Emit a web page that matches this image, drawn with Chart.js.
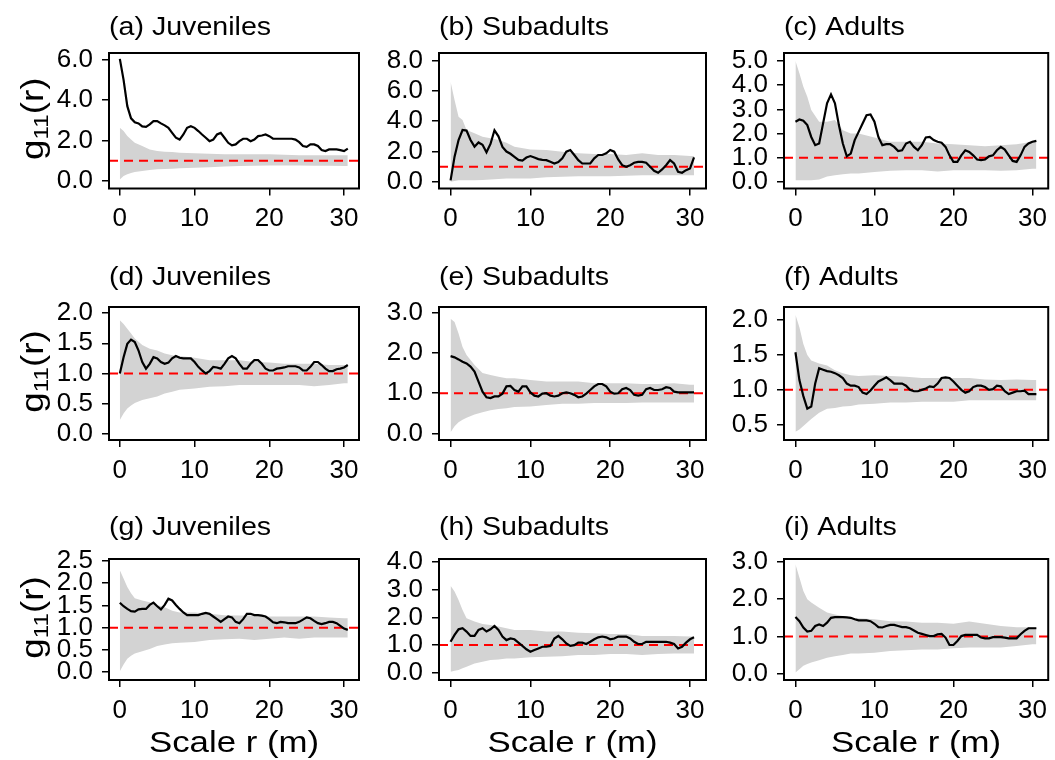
<!DOCTYPE html>
<html>
<head>
<meta charset="utf-8">
<script src="https://cdn.jsdelivr.net/npm/chart.js@4.4.0/dist/chart.umd.min.js"></script>
<style>
  body { margin: 0; background: #fff; width: 1055px; height: 760px; overflow: hidden; position: relative; }
  canvas { position: absolute; }
</style>
</head>
<body>
<script>
// distances r (m) for the observed g11(r) curves and for the simulation envelopes
var obsX = [0,0.5,1,1.5,2,2.5,3,3.5,4,4.5,5,5.5,6,6.5,7,7.5,8,8.5,9,9.5,10,10.5,11,11.5,12,12.5,13,13.5,14,14.5,15,15.5,16,16.5,17,17.5,18,18.5,19,19.5,20,20.5,21,21.5,22,22.5,23,23.5,24,24.5,25,25.5,26,26.5,27,27.5,28,28.5,29,29.5,30,30.5];
var envX = [0,0.5,1,1.5,2,3,4,5,6,7,8,10,12,14,16,18,20,22,24,26,28,30,30.5];

// (a) Juveniles
var obsA = [6.04,5.0,3.7,3.1,2.9,2.85,2.7,2.68,2.8,2.96,2.96,2.85,2.75,2.63,2.38,2.14,2.05,2.3,2.63,2.71,2.63,2.47,2.3,2.14,1.97,2.05,2.3,2.38,2.14,1.89,1.76,1.81,1.97,2.09,2.09,1.97,2.05,2.22,2.25,2.3,2.22,2.09,2.09,2.09,2.09,2.09,2.09,2.05,1.92,1.73,1.69,1.81,1.81,1.73,1.53,1.48,1.56,1.56,1.56,1.53,1.48,1.6];
var hiA = [2.63,2.47,2.22,2.05,1.89,1.73,1.56,1.48,1.45,1.43,1.4,1.37,1.35,1.32,1.32,1.32,1.32,1.3,1.28,1.27,1.27,1.27,1.27];
var loA = [0.08,0.25,0.33,0.4,0.44,0.49,0.54,0.58,0.6,0.61,0.63,0.66,0.68,0.72,0.74,0.76,0.77,0.77,0.77,0.76,0.76,0.74,0.74];
// (b) Subadults
var obsB = [0.1,1.66,2.76,3.42,3.38,2.76,2.32,2.6,2.45,1.95,2.5,3.4,3.0,2.3,2.0,1.85,1.65,1.45,1.4,1.6,1.7,1.6,1.5,1.45,1.43,1.32,1.21,1.3,1.55,1.99,2.1,1.77,1.43,1.21,1.21,1.21,1.55,1.77,1.77,1.88,2.1,1.99,1.48,1.1,0.99,1.1,1.26,1.32,1.32,1.26,0.99,0.73,0.6,0.82,1.1,1.43,1.21,0.66,0.6,0.77,0.88,1.61];
var hiB = [6.6,5.4,4.3,4.08,3.42,3.2,2.98,2.87,2.76,2.58,2.32,2.14,2.1,1.99,1.88,1.83,1.83,1.77,1.88,1.77,1.77,1.7,1.7];
var loB = [0.0,0.05,0.1,0.1,0.1,0.1,0.12,0.15,0.18,0.22,0.22,0.22,0.3,0.33,0.37,0.37,0.37,0.4,0.44,0.44,0.44,0.44,0.44];
// (c) Adults
var obsC = [2.49,2.58,2.53,2.35,1.86,1.52,1.59,2.42,3.25,3.62,3.25,2.35,1.59,1.06,1.17,1.73,2.07,2.42,2.76,2.79,2.49,1.86,1.52,1.56,1.56,1.45,1.28,1.31,1.59,1.66,1.45,1.31,1.52,1.84,1.86,1.73,1.66,1.62,1.45,1.1,0.83,0.83,1.1,1.31,1.24,1.1,0.93,0.9,0.93,1.06,1.1,1.31,1.45,1.34,1.1,0.87,0.83,1.1,1.45,1.59,1.66,1.7];
var hiC = [5.0,4.49,3.94,3.52,2.97,2.49,2.49,2.56,2.14,2.0,2.0,1.84,1.66,1.66,1.66,1.59,1.56,1.52,1.48,1.52,1.56,1.66,1.66];
var loC = [0.07,0.07,0.07,0.07,0.07,0.1,0.23,0.28,0.32,0.35,0.35,0.41,0.46,0.48,0.48,0.43,0.48,0.48,0.48,0.46,0.48,0.55,0.55];
// (d) Juveniles
var obsD = [1.0,1.27,1.49,1.56,1.52,1.38,1.19,1.08,1.16,1.27,1.25,1.19,1.16,1.18,1.25,1.29,1.26,1.25,1.25,1.25,1.19,1.11,1.05,1.0,1.04,1.11,1.1,1.08,1.16,1.25,1.29,1.25,1.16,1.08,1.08,1.16,1.22,1.22,1.16,1.08,1.05,1.05,1.08,1.09,1.1,1.12,1.12,1.12,1.1,1.05,1.05,1.11,1.19,1.19,1.14,1.08,1.04,1.04,1.07,1.08,1.1,1.14];
var hiD = [1.88,1.82,1.74,1.66,1.58,1.47,1.41,1.38,1.33,1.3,1.29,1.26,1.22,1.22,1.22,1.19,1.18,1.16,1.16,1.16,1.14,1.14,1.14];
var loD = [0.23,0.34,0.42,0.47,0.51,0.56,0.59,0.62,0.67,0.7,0.73,0.75,0.78,0.79,0.81,0.81,0.81,0.81,0.81,0.79,0.81,0.84,0.84];
// (e) Subadults
var obsE = [1.92,1.89,1.84,1.78,1.74,1.66,1.54,1.29,1.04,0.9,0.88,0.92,0.92,0.99,1.17,1.18,1.08,1.04,1.17,1.17,1.02,0.94,0.92,0.99,1.0,0.94,0.92,0.94,1.0,1.02,1.0,0.96,0.9,0.92,0.99,1.08,1.17,1.23,1.23,1.17,1.04,0.99,1.0,1.1,1.13,1.08,0.96,0.94,0.96,1.1,1.13,1.08,1.08,1.1,1.15,1.13,1.04,1.02,1.02,1.02,1.02,1.02];
var hiE = [2.85,2.77,2.48,2.15,1.95,1.7,1.5,1.45,1.41,1.37,1.37,1.33,1.29,1.29,1.29,1.25,1.25,1.25,1.23,1.23,1.25,1.21,1.21];
var loE = [0.03,0.18,0.28,0.34,0.39,0.47,0.53,0.58,0.61,0.63,0.66,0.67,0.71,0.74,0.74,0.76,0.76,0.76,0.77,0.77,0.77,0.77,0.77];
// (f) Adults
var obsF = [1.54,1.14,0.91,0.73,0.76,1.09,1.31,1.29,1.27,1.26,1.24,1.21,1.17,1.09,1.06,1.06,1.04,0.96,0.94,0.99,1.06,1.12,1.15,1.18,1.14,1.09,1.09,1.09,1.06,1.0,0.98,0.98,1.0,1.02,1.05,1.04,1.09,1.17,1.18,1.17,1.12,1.06,1.0,0.96,0.98,1.04,1.06,1.06,1.04,1.0,1.01,1.06,1.05,0.98,0.94,0.96,0.98,0.98,0.99,0.94,0.94,0.94];
var hiF = [2.08,1.9,1.66,1.5,1.42,1.38,1.35,1.28,1.24,1.21,1.2,1.21,1.2,1.19,1.17,1.17,1.17,1.17,1.15,1.14,1.15,1.14,1.14];
var loF = [0.4,0.43,0.48,0.53,0.58,0.67,0.73,0.74,0.76,0.77,0.79,0.8,0.82,0.82,0.83,0.83,0.83,0.85,0.85,0.85,0.85,0.85,0.85];
// (g) Juveniles
var obsG = [1.56,1.48,1.42,1.37,1.36,1.41,1.42,1.42,1.51,1.56,1.48,1.41,1.51,1.65,1.61,1.51,1.42,1.34,1.28,1.28,1.28,1.28,1.31,1.33,1.31,1.25,1.19,1.13,1.19,1.25,1.23,1.13,1.1,1.19,1.31,1.31,1.28,1.28,1.27,1.25,1.19,1.12,1.1,1.13,1.12,1.1,1.1,1.1,1.13,1.18,1.23,1.21,1.15,1.1,1.08,1.1,1.13,1.13,1.1,1.04,0.98,0.95];
var hiG = [2.29,2.1,1.91,1.77,1.66,1.61,1.57,1.51,1.46,1.38,1.34,1.34,1.31,1.28,1.27,1.27,1.25,1.25,1.25,1.25,1.23,1.21,1.21];
var loG = [0.02,0.17,0.3,0.37,0.42,0.47,0.52,0.59,0.62,0.65,0.66,0.68,0.72,0.74,0.75,0.72,0.75,0.78,0.75,0.78,0.78,0.78,0.78];
// (h) Subadults
var obsH = [1.12,1.37,1.57,1.61,1.49,1.33,1.33,1.55,1.61,1.49,1.57,1.69,1.55,1.31,1.18,1.24,1.21,1.09,0.97,0.85,0.76,0.82,0.88,0.94,0.94,0.97,1.24,1.33,1.21,1.06,0.97,1.0,1.09,1.09,1.04,1.12,1.21,1.28,1.31,1.28,1.21,1.24,1.31,1.31,1.31,1.24,1.12,1.04,1.04,1.12,1.12,1.12,1.12,1.12,1.12,1.09,1.04,0.88,0.94,1.09,1.21,1.28];
var hiH = [3.14,2.94,2.63,2.27,1.97,1.85,1.76,1.73,1.67,1.61,1.55,1.55,1.49,1.49,1.45,1.43,1.4,1.4,1.33,1.33,1.33,1.31,1.31];
var loH = [0.04,0.07,0.1,0.16,0.22,0.34,0.4,0.46,0.48,0.52,0.52,0.56,0.58,0.6,0.64,0.64,0.68,0.68,0.64,0.68,0.7,0.7,0.7];
// (i) Adults
var obsI = [1.52,1.41,1.24,1.13,1.15,1.28,1.32,1.28,1.37,1.5,1.52,1.52,1.52,1.51,1.5,1.46,1.43,1.43,1.43,1.41,1.34,1.25,1.24,1.28,1.31,1.31,1.28,1.25,1.25,1.22,1.16,1.1,1.07,1.04,1.01,1.01,1.06,1.07,0.97,0.77,0.77,0.88,1.01,1.04,1.04,1.04,1.04,0.97,0.95,0.95,0.98,0.98,0.98,0.97,0.95,0.95,0.95,1.06,1.15,1.22,1.22,1.22];
var hiI = [2.94,2.58,2.22,2.0,1.91,1.77,1.64,1.59,1.55,1.5,1.49,1.46,1.41,1.4,1.37,1.37,1.34,1.4,1.34,1.28,1.25,1.25,1.25];
var loI = [0.03,0.12,0.21,0.26,0.3,0.36,0.43,0.47,0.5,0.54,0.54,0.56,0.61,0.63,0.65,0.65,0.68,0.7,0.7,0.7,0.74,0.79,0.79];

// axis ticks
var xTicks = [0, 10, 20, 30];
var ticksA = [0, 2, 4, 6];
var ticksB = [0, 2, 4, 6, 8];
var ticksC = [0, 1, 2, 3, 4, 5];
var ticksD = [0, 0.5, 1, 1.5, 2];
var ticksE = [0, 1, 2, 3];
var ticksF = [0.5, 1, 1.5, 2];
var ticksG = [0, 0.5, 1, 1.5, 2, 2.5];
var ticksH = [0, 1, 2, 3, 4];
var ticksI = [0, 1, 2, 3];

var titles = ['(a) Juveniles', '(b) Subadults', '(c) Adults',
              '(d) Juveniles', '(e) Subadults', '(f) Adults',
              '(g) Juveniles', '(h) Subadults', '(i) Adults'];
var xLabel = 'Scale r (m)';
var refLevel = 1;   // g11(r) = 1 under complete spatial randomness
var X_MIN = -1.45, X_MAX = 32.0;

var panels = [
  { obs: obsA, lo: loA, hi: hiA, ticks: ticksA, yMin: -0.37, yMax: 6.33 },
  { obs: obsB, lo: loB, hi: hiB, ticks: ticksB, yMin: -0.44, yMax: 8.5 },
  { obs: obsC, lo: loC, hi: hiC, ticks: ticksC, yMin: -0.27, yMax: 5.33 },
  { obs: obsD, lo: loD, hi: hiD, ticks: ticksD, yMin: -0.1, yMax: 2.1 },
  { obs: obsE, lo: loE, hi: hiE, ticks: ticksE, yMin: -0.16, yMax: 3.14 },
  { obs: obsF, lo: loF, hi: hiF, ticks: ticksF, yMin: 0.28, yMax: 2.19 },
  { obs: obsG, lo: loG, hi: hiG, ticks: ticksG, yMin: -0.175, yMax: 2.54 },
  { obs: obsH, lo: loH, hi: hiH, ticks: ticksH, yMin: -0.26, yMax: 4.11 },
  { obs: obsI, lo: loI, hi: hiI, ticks: ticksI, yMin: -0.17, yMax: 3.08 }
];

// page grid
var colLeft = [0, 370, 715], colWidth = [370, 345, 340];
var rowTop = [0, 250, 505], rowHeight = [250, 255, 255];
var boxLeft = [109, 439, 784], boxRight = [359, 706, 1053];
var boxTop = [53, 307, 559], boxBottom = [188.5, 440, 680];
var titleBase = [35, 285, 535];
var Y_W = 60, X_H = 44;

var FONT = '"Liberation Sans", Arial, Helvetica, sans-serif';
Chart.defaults.font.family = FONT;
Chart.defaults.font.size = 26;
Chart.defaults.color = '#000';

function pairs(xs, ys) {
  return xs.map(function (x, i) { return { x: x, y: ys[i] }; });
}

// text drawn a little wider than the plain font, like the GDI output
function wideText(ctx, txt, x, y, sx) {
  ctx.save();
  ctx.translate(x, y);
  ctx.scale(sx, 1);
  ctx.fillText(txt, 0, 0);
  ctx.restore();
}

// box around the plot region, panel title and axis labels
var framePlugin = {
  id: 'frame',
  afterDraw: function (chart, args, opts) {
    var a = chart.chartArea, ctx = chart.ctx;
    ctx.save();
    ctx.strokeStyle = '#000';
    ctx.lineWidth = 2;
    ctx.strokeRect(a.left, a.top, a.right - a.left, a.bottom - a.top);

    ctx.fillStyle = '#000';
    ctx.textBaseline = 'alphabetic';
    ctx.textAlign = 'left';
    ctx.font = '26px ' + FONT;
    wideText(ctx, opts.title, a.left, opts.titleY, 1.1);

    if (opts.xLabel) {
      ctx.font = '30px ' + FONT;
      var sx = 1.16;
      var w = ctx.measureText(xLabel).width * sx;
      wideText(ctx, xLabel, (a.left + a.right) / 2 - w / 2, opts.xLabelY, sx);
    }

    if (opts.yLabel) {
      var big = '32px ' + FONT, small = '21px ' + FONT, s = 1.15;
      ctx.font = big;
      var wg = ctx.measureText('g').width * s, wr = ctx.measureText('(r)').width * s;
      ctx.font = small;
      var ws = ctx.measureText('11').width * s;
      var total = wg + ws + wr;
      ctx.translate(opts.yLabelX, (a.top + a.bottom) / 2 - 2);
      ctx.rotate(-Math.PI / 2);
      var x = -total / 2;
      ctx.font = big;
      wideText(ctx, 'g', x, 0, s);
      x += wg;
      ctx.font = small;
      wideText(ctx, '11', x, 5, s);
      x += ws;
      ctx.font = big;
      wideText(ctx, '(r)', x, 0, s);
    }
    ctx.restore();
  }
};

panels.forEach(function (p, k) {
  var r = Math.floor(k / 3), c = k % 3;

  var cv = document.createElement('canvas');
  cv.width = colWidth[c];
  cv.height = rowHeight[r];
  cv.style.left = colLeft[c] + 'px';
  cv.style.top = rowTop[r] + 'px';
  document.body.appendChild(cv);

  new Chart(cv, {
    type: 'line',
    data: {
      datasets: [
        { data: pairs(obsX, p.obs), borderColor: '#000', borderWidth: 2.2, pointRadius: 0, fill: false },
        { data: pairs([X_MIN, X_MAX], [refLevel, refLevel]), borderColor: '#ff0000', borderWidth: 2,
          borderDash: [9, 6], pointRadius: 0, fill: false },
        { data: pairs(envX, p.lo), borderColor: 'rgba(0,0,0,0)', borderWidth: 0, pointRadius: 0, fill: false },
        { data: pairs(envX, p.hi), borderColor: 'rgba(0,0,0,0)', borderWidth: 0, pointRadius: 0,
          fill: '-1', backgroundColor: '#d3d3d3' }
      ]
    },
    options: {
      responsive: false,
      animation: false,
      events: [],
      layout: {
        padding: {
          left: boxLeft[c] - colLeft[c] - Y_W,
          right: colLeft[c] + colWidth[c] - boxRight[c],
          top: boxTop[r] - rowTop[r],
          bottom: rowTop[r] + rowHeight[r] - boxBottom[r] - X_H
        }
      },
      plugins: {
        legend: { display: false },
        tooltip: { enabled: false },
        frame: {
          title: titles[k],
          titleY: titleBase[r] - rowTop[r],
          xLabel: r === 2,
          xLabelY: 752 - rowTop[r],
          yLabel: c === 0,
          yLabelX: 43 - colLeft[c]
        }
      },
      scales: {
        x: {
          type: 'linear',
          min: X_MIN,
          max: X_MAX,
          afterBuildTicks: function (s) { s.ticks = xTicks.map(function (v) { return { value: v }; }); },
          afterFit: function (s) { s.height = X_H; },
          grid: { drawOnChartArea: false, tickLength: 7, color: '#000', lineWidth: 1.5 },
          border: { display: false },
          ticks: { padding: 8, color: '#000', maxRotation: 0, autoSkip: false, font: { size: 26 } }
        },
        y: {
          type: 'linear',
          min: p.yMin,
          max: p.yMax,
          afterBuildTicks: function (s) { s.ticks = p.ticks.map(function (v) { return { value: v }; }); },
          afterFit: function (s) { s.width = Y_W; },
          grid: { drawOnChartArea: false, tickLength: 7, color: '#000', lineWidth: 1.5 },
          border: { display: false },
          ticks: {
            padding: 9,
            color: '#000',
            autoSkip: false,
            font: { size: 26 },
            callback: function (v) { return Number(v).toFixed(1); }
          }
        }
      }
    },
    plugins: [framePlugin]
  });
});
</script>
</body>
</html>
